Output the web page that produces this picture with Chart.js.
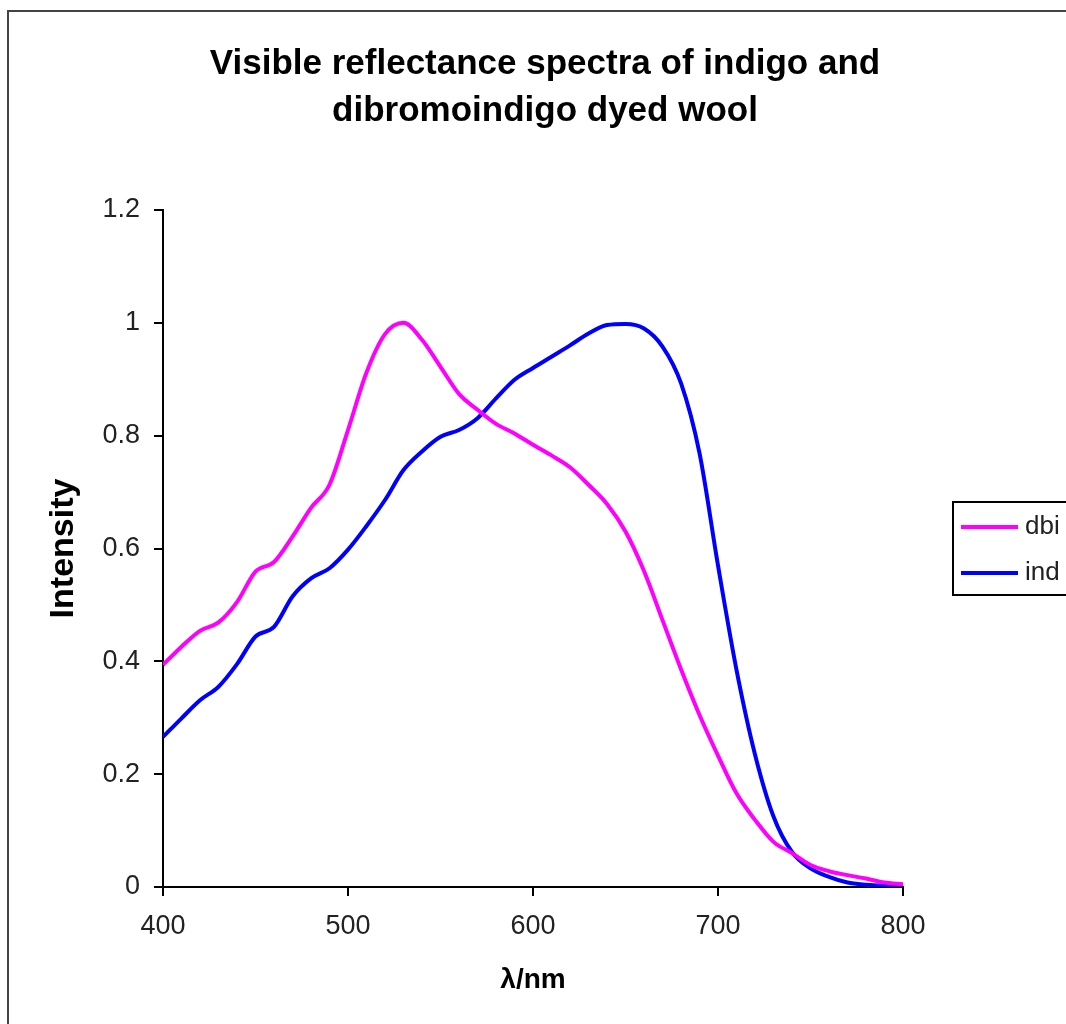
<!DOCTYPE html>
<html>
<head>
<meta charset="utf-8">
<title>Visible reflectance spectra</title>
<script src="https://cdn.jsdelivr.net/npm/chart.js@4.4.1/dist/chart.umd.min.js"></script>
<style>
  body { margin: 0; background: #fff; }
  canvas { display: block; }
</style>
</head>
<body>
<canvas id="myChart" width="1066" height="1024"></canvas>
<script>
// wavelength, nm
const wavelengths = [400, 410, 420, 430, 440, 450, 460, 470, 480, 490,
                     500, 510, 520, 530, 540, 550, 560, 570, 580, 590,
                     600, 610, 620, 630, 640, 650, 660, 670, 680, 690,
                     700, 710, 720, 730, 740, 750, 760, 770, 780, 790, 800];

// dibromoindigo
const dbi = [0.394, 0.426, 0.454, 0.469, 0.505, 0.559, 0.576, 0.621, 0.672, 0.713,
             0.81, 0.912, 0.98, 1.0, 0.97, 0.922, 0.874, 0.846, 0.821, 0.804,
             0.784, 0.765, 0.744, 0.713, 0.679, 0.63, 0.56, 0.473, 0.386, 0.305,
             0.233, 0.166, 0.119, 0.08, 0.06, 0.039, 0.028, 0.021, 0.015, 0.008, 0.005];

// indigo
const ind = [0.266, 0.299, 0.331, 0.355, 0.395, 0.444, 0.461, 0.515, 0.547, 0.565,
             0.598, 0.64, 0.686, 0.739, 0.772, 0.798, 0.81, 0.831, 0.866, 0.899,
             0.92, 0.94, 0.96, 0.981, 0.996, 0.998, 0.99, 0.958, 0.893, 0.769,
             0.57, 0.385, 0.235, 0.125, 0.062, 0.033, 0.018, 0.008, 0.004, 0.002, 0.001];

const titleLines = ['Visible reflectance spectra of indigo and', 'dibromoindigo dyed wool'];
const seriesNames = ['dbi', 'ind'];
const seriesColors = ['#ff00ff', '#0000ff'];

const FONT = '"Liberation Sans", Arial, sans-serif';

function toPoints(ys) {
    return wavelengths.map((x, i) => ({ x: x, y: ys[i] }));
}

// frame, title and the legend box (the legend sits half outside the frame)
const decorations = {
    id: 'decorations',
    beforeDraw(chart) {
        const ctx = chart.ctx;
        ctx.save();
        ctx.fillStyle = '#fff';
        ctx.fillRect(0, 0, chart.width, chart.height);
        ctx.strokeStyle = '#444';
        ctx.lineWidth = 2;
        ctx.strokeRect(8, 11, 1200, 1200);
        ctx.restore();
    },
    afterDraw(chart) {
        const ctx = chart.ctx;
        ctx.save();
        ctx.fillStyle = '#000';
        ctx.font = 'bold 35px ' + FONT;
        ctx.textAlign = 'center';
        ctx.textBaseline = 'middle';
        ctx.fillText(titleLines[0], 545, 64);
        ctx.fillText(titleLines[1], 545, 111);

        ctx.fillStyle = '#fff';
        ctx.fillRect(953, 502, 200, 93);
        ctx.strokeStyle = '#000';
        ctx.lineWidth = 2;
        ctx.strokeRect(953, 502, 200, 93);

        ctx.font = '26px ' + FONT;
        ctx.textAlign = 'left';
        chart.data.datasets.forEach(function(ds, i) {
            const y = 527 + i * 46;
            ctx.strokeStyle = ds.borderColor;
            ctx.lineWidth = 4;
            ctx.beginPath();
            ctx.moveTo(961, y);
            ctx.lineTo(1018, y);
            ctx.stroke();
            ctx.fillStyle = '#222';
            ctx.fillText(ds.label, 1025, y);
        });
        ctx.restore();
    }
};

const ctx = document.getElementById('myChart');

new Chart(ctx, {
    type: 'line',
    data: {
        datasets: [{
            label: seriesNames[0],
            data: toPoints(dbi),
            borderColor: seriesColors[0],
            borderWidth: 4,
            pointRadius: 0,
            cubicInterpolationMode: 'monotone'
        }, {
            label: seriesNames[1],
            data: toPoints(ind),
            borderColor: seriesColors[1],
            borderWidth: 4,
            pointRadius: 0,
            cubicInterpolationMode: 'monotone'
        }]
    },
    options: {
        responsive: false,
        animation: false,
        devicePixelRatio: 1,
        layout: {
            padding: { left: 20, top: 210, right: 163, bottom: 17 }
        },
        plugins: {
            legend: { display: false },
            title: { display: false },
            tooltip: { enabled: false }
        },
        scales: {
            x: {
                type: 'linear',
                min: 400,
                max: 800,
                afterFit: function(scale) { scale.height = 120; },
                ticks: {
                    stepSize: 100,
                    maxRotation: 0,
                    padding: 14,
                    color: '#222',
                    font: { family: FONT, size: 27 }
                },
                grid: { drawOnChartArea: false, drawTicks: true, tickLength: 9, color: '#000', lineWidth: 2 },
                border: { display: true, color: '#000', width: 2 },
                title: {
                    display: true,
                    text: 'λ/nm',
                    color: '#000',
                    padding: { top: 0, bottom: 10 },
                    font: { family: FONT, size: 28, weight: 'bold' }
                }
            },
            y: {
                min: 0,
                max: 1.2,
                afterFit: function(scale) { scale.width = 143; },
                ticks: {
                    stepSize: 0.2,
                    padding: 14,
                    color: '#222',
                    font: { family: FONT, size: 27 },
                    callback: function(value) { return String(+value.toFixed(1)); }
                },
                grid: { drawOnChartArea: false, drawTicks: true, tickLength: 9, color: '#000', lineWidth: 2 },
                border: { display: true, color: '#000', width: 2 },
                title: {
                    display: true,
                    text: 'Intensity',
                    color: '#000',
                    padding: { top: 23, bottom: 0 },
                    font: { family: FONT, size: 34, weight: 'bold' }
                }
            }
        }
    },
    plugins: [decorations]
});
</script>
</body>
</html>
